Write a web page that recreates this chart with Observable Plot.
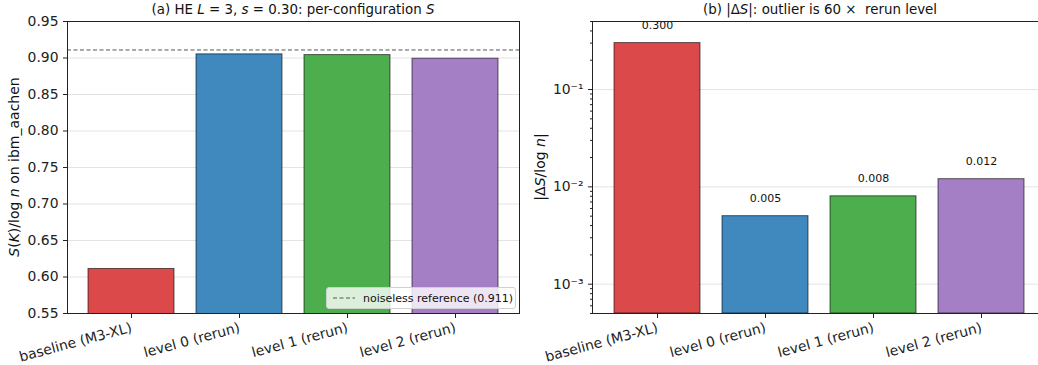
<!DOCTYPE html>
<html><head><meta charset="utf-8">
<script src="https://cdn.jsdelivr.net/npm/d3@7"></script>
<script src="https://cdn.jsdelivr.net/npm/@observablehq/plot@0.6"></script>
<style>
body{margin:0;background:#fff;font-family:"DejaVu Sans",sans-serif;}
#wrap{position:relative;width:1038px;height:365px;overflow:hidden;background:#fff;}
.panel{position:absolute;top:0;height:365px;}
.panel svg{max-width:none !important;display:block;}
.title{position:absolute;top:2px;font-size:13.4px;color:#111;white-space:nowrap;transform:translateX(-50%);}
.ylab{position:absolute;font-size:14px;color:#111;white-space:nowrap;transform:translate(-50%,-50%) rotate(-90deg);}
.legend{position:absolute;box-sizing:border-box;border:1px solid #d0d0d0;border-radius:3px;background:rgba(255,255,255,0.8);font-size:11px;color:#111;display:flex;align-items:center;padding-left:6px;white-space:nowrap;}
.legend svg{margin-right:8px;}
</style>
</head><body>
<div id="wrap"></div>
<script>
const categories = ["baseline (M3-XL)", "level 0 (rerun)", "level 1 (rerun)", "level 2 (rerun)"];
const sValues = [0.611, 0.905, 0.904, 0.899];
const deltaValues = [0.300, 0.005, 0.008, 0.012];
const noiselessRef = 0.911;
const barColors = ["#dc494a", "#3f89bf", "#4cae4c", "#a57fc6"];
const leftTicks = [0.55, 0.60, 0.65, 0.70, 0.75, 0.80, 0.85, 0.90, 0.95];
const leftDomain = [0.55, 0.95];
const rightTicks = [1e-3, 1e-2, 1e-1];
const rightTickLabels = ["10\u207B\u00B3", "10\u207B\u00B2", "10\u207B\u00B9"];
const rightDomain = [5e-4, 0.5];

const leftData = categories.map((c, i) => ({cat: c, v: sValues[i], color: barColors[i]}));
const rightData = categories.map((c, i) => ({cat: c, v: deltaValues[i], color: barColors[i]}));

const minorTicks = [];
for (let d = -4; d <= -1; d++) for (let k = 2; k <= 9; k++) {
  const t = k * Math.pow(10, d);
  if (t >= rightDomain[0] && t <= rightDomain[1]) minorTicks.push(t);
}

const common = {
  height: 365, marginTop: 21, marginBottom: 52,
  style: {fontFamily: "DejaVu Sans, sans-serif", fontSize: "13.9px", color: "#222", background: "transparent", overflow: "visible", maxWidth: "none"}
};

const left = Plot.plot({
  ...common,
  width: 525, marginLeft: 67, marginRight: 6,
  x: {domain: categories, paddingInner: 0.2, paddingOuter: 0.19, label: null},
  y: {domain: leftDomain, label: null},
  marks: [
    Plot.gridY(leftTicks, {stroke: "#b0b0b0", strokeOpacity: 0.35}),
    Plot.barY(leftData, {x: "cat", y: "v", fill: "color", stroke: "#000", strokeOpacity: 0.6, strokeWidth: 1, clip: true}),
    Plot.ruleY([noiselessRef], {stroke: "#555", strokeWidth: 1, strokeDasharray: "4,2.5"}),
    Plot.axisY(leftTicks, {tickFormat: d3.format(".2f"), tickSize: 4, label: null, fontSize: 13.9}),
    Plot.axisX({tickRotate: -15, tickSize: 4, label: null, fontSize: 13.9, dy: 1}),
    Plot.frame({stroke: "#222"})
  ]
});

const right = Plot.plot({
  ...common,
  width: 531, marginLeft: 67, marginRight: 10,
  x: {domain: categories, paddingInner: 0.2, paddingOuter: 0.19, label: null},
  y: {type: "log", domain: rightDomain, label: null},
  marks: [
    Plot.gridY(rightTicks, {stroke: "#b0b0b0", strokeOpacity: 0.35}),
    Plot.barY(rightData, {x: "cat", y1: rightDomain[0], y2: "v", fill: "color", stroke: "#000", strokeOpacity: 0.6, strokeWidth: 1}),
    Plot.text(rightData, {x: "cat", y: d => d.v * 1.4, text: d => d.v.toFixed(3), lineAnchor: "bottom", fontSize: 11, fill: "#111"}),
    Plot.axisY(minorTicks, {tickSize: 2, tickFormat: () => "", label: null}),
    Plot.axisY(rightTicks, {tickSize: 4, tickFormat: d => rightTickLabels[rightTicks.indexOf(d)], label: null, fontSize: 13.9}),
    Plot.axisX({tickRotate: -15, tickSize: 4, label: null, fontSize: 13.9, dy: 1}),
    Plot.frame({stroke: "#222"})
  ]
});

const wrap = document.getElementById("wrap");
const p1 = document.createElement("div"); p1.className = "panel"; p1.style.left = "0px"; p1.style.width = "525px"; p1.appendChild(left); wrap.appendChild(p1);
const p2 = document.createElement("div"); p2.className = "panel"; p2.style.left = "525px"; p2.style.width = "531px"; p2.appendChild(right); wrap.appendChild(p2);

function addHTML(cls, html, styles) {
  const el = document.createElement("div");
  el.className = cls; el.innerHTML = html;
  Object.assign(el.style, styles);
  wrap.appendChild(el);
  return el;
}
addHTML("title", "(a) HE <i>L</i> = 3, <i>s</i> = 0.30: per-configuration <i>S</i>", {left: "293px"});
addHTML("title", "(b) |Δ<i>S</i>|: outlier is 60 ×&nbsp; rerun level", {left: "820px"});
addHTML("ylab", "<i>S</i>(<i>K</i>)/log <i>n</i> on ibm_aachen", {left: "14px", top: "167px"});
addHTML("ylab", "|Δ<i>S</i>/log <i>n</i>|", {left: "540px", top: "167px"});
addHTML("legend", '<svg width="22" height="4"><line x1="0" y1="2" x2="22" y2="2" stroke="#555" stroke-width="1" stroke-dasharray="4,2.5"/></svg>noiseless reference (' + noiselessRef.toFixed(3) + ')', {left: "326px", top: "287px", width: "190px", height: "22px"});
</script>
</body></html>
